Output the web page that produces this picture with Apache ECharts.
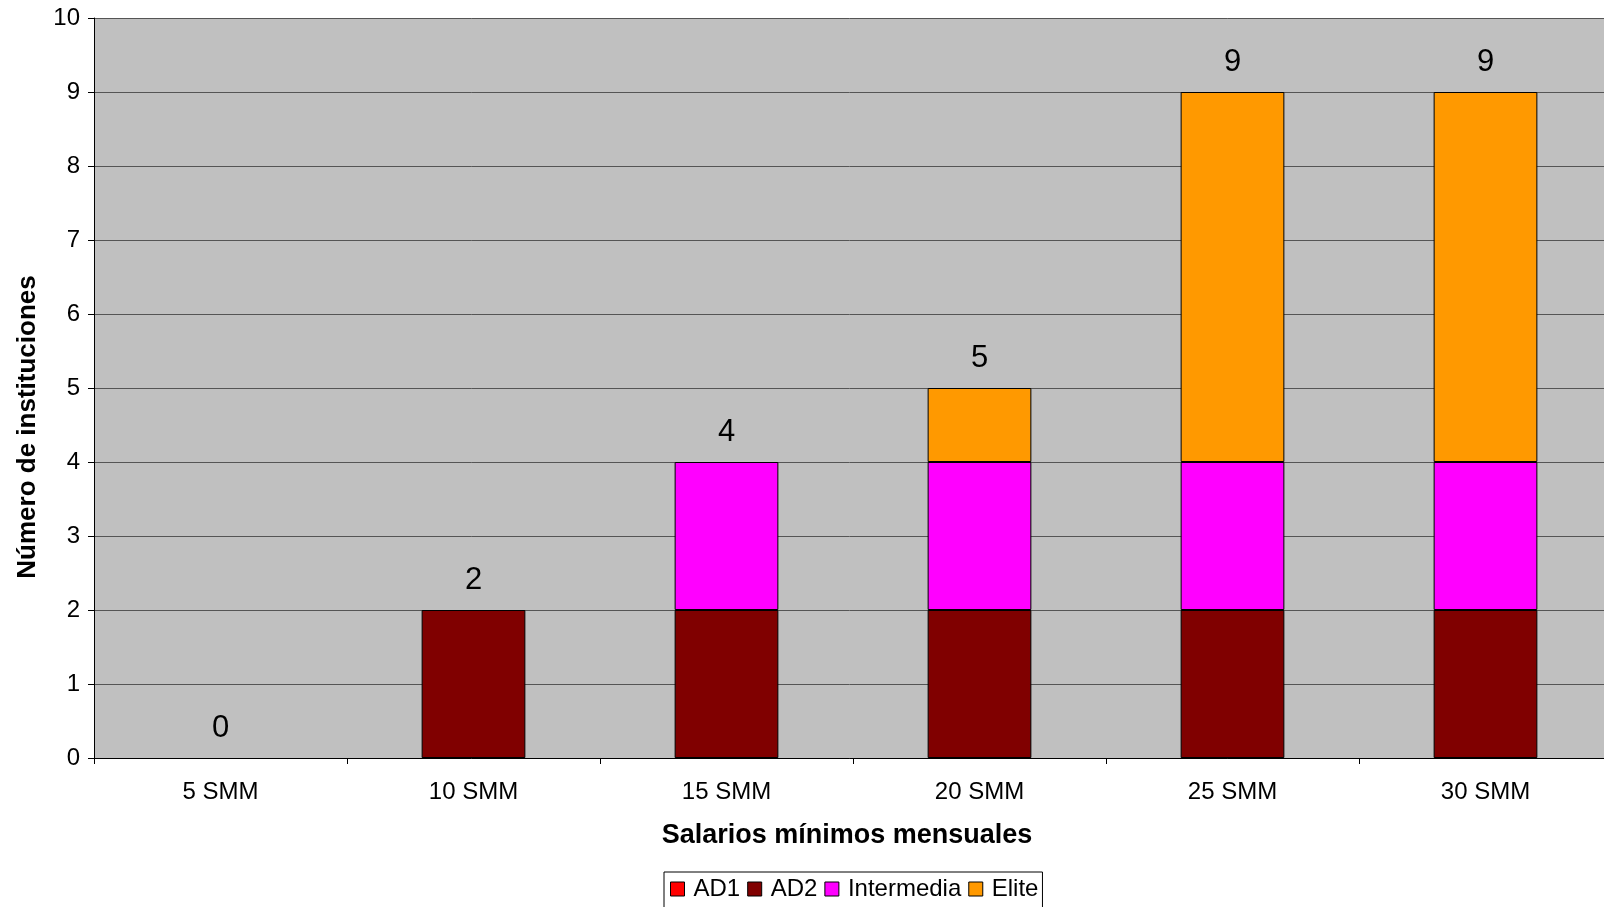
<!DOCTYPE html>
<html>
<head>
<meta charset="utf-8">
<script src="https://cdn.jsdelivr.net/npm/echarts@6/dist/echarts.min.js"></script>
<style>
    html, body { margin: 0; padding: 0; background: #fff; }
    #chart { width: 1604px; height: 907px; }
</style>
</head>
<body>
<div id="chart"></div>
<script>
// categorias y series
var categorias = ['5 SMM', '10 SMM', '15 SMM', '20 SMM', '25 SMM', '30 SMM'];
var ad1 = [0, 0, 0, 0, 0, 0];
var ad2 = [0, 2, 2, 2, 2, 2];
var intermedia = [0, 0, 2, 2, 2, 2];
var elite = [0, 0, 0, 1, 5, 5];
var yTicks = [0, 1, 2, 3, 4, 5, 6, 7, 8, 9, 10];

var totales = categorias.map(function (c, i) {
    return ad1[i] + ad2[i] + intermedia[i] + elite[i];
});

var fuente = 'Liberation Sans, Arial, sans-serif';

function serieBarra(nombre, datos, color) {
    return {
        name: nombre,
        type: 'bar',
        stack: 'total',
        barWidth: '41%',
        // los ceros no se dibujan (sin borde)
        data: datos.map(function (v) { return v === 0 ? '-' : v; }),
        itemStyle: { color: color, borderColor: '#000', borderWidth: 1 }
    };
}

var myChart = echarts.init(document.getElementById('chart'));
myChart.setOption({
    animation: false,
    textStyle: { fontFamily: fuente },
    grid: {
        left: 94,
        top: 18,
        width: 1518,
        bottom: 149,
        outerBoundsMode: 'none',
        show: true,
        backgroundColor: '#C0C0C0',
        borderWidth: 0
    },
    legend: {
        data: ['AD1', 'AD2', 'Intermedia', 'Elite'],
        left: 664,
        top: 872,
        icon: 'rect',
        itemWidth: 14,
        itemHeight: 14,
        itemGap: 7,
        padding: [5, 4, 8, 6],
        borderColor: '#000',
        borderWidth: 1,
        backgroundColor: '#fff',
        textStyle: { fontSize: 24, color: '#000', fontFamily: fuente, padding: [0, 0, 0, 4] },
        itemStyle: { borderColor: '#000', borderWidth: 1 }
    },
    xAxis: {
        type: 'category',
        data: categorias,
        name: 'Salarios mínimos mensuales',
        nameLocation: 'middle',
        nameGap: 64,
        nameTextStyle: {
            fontSize: 27, fontWeight: 'bold', color: '#000', fontFamily: fuente,
            padding: [0, 12, 0, 0]
        },
        axisLine: { lineStyle: { color: '#000', width: 1 } },
        axisTick: { show: true, length: 6, lineStyle: { color: '#000' } },
        axisLabel: { fontSize: 24, color: '#000', margin: 22, fontFamily: fuente }
    },
    yAxis: {
        type: 'value',
        min: yTicks[0],
        max: yTicks[yTicks.length - 1],
        interval: 1,
        name: 'Número de instituciones',
        nameLocation: 'middle',
        nameGap: 53,
        nameTextStyle: {
            fontSize: 26, fontWeight: 'bold', color: '#000', fontFamily: fuente,
            padding: [0, 78, 0, 0]
        },
        axisLine: { show: true, lineStyle: { color: '#000', width: 1 } },
        axisTick: { show: true, length: 6, lineStyle: { color: '#000' } },
        axisLabel: { fontSize: 24, color: '#000', margin: 14, fontFamily: fuente },
        splitLine: { show: true, lineStyle: { color: '#555', width: 1 } }
    },
    series: [
        serieBarra('AD1', ad1, '#FF0000'),
        serieBarra('AD2', ad2, '#800000'),
        serieBarra('Intermedia', intermedia, '#FF00FF'),
        serieBarra('Elite', elite, '#FF9900'),
        {
            name: 'Total',
            type: 'line',
            data: totales,
            symbol: 'circle',
            symbolSize: 1,
            itemStyle: { color: 'rgba(0,0,0,0)' },
            lineStyle: { opacity: 0 },
            silent: true,
            z: 10,
            label: {
                show: true,
                position: 'top',
                distance: 14,
                fontSize: 31,
                color: '#000',
                fontFamily: fuente
            }
        }
    ]
});
</script>
</body>
</html>
